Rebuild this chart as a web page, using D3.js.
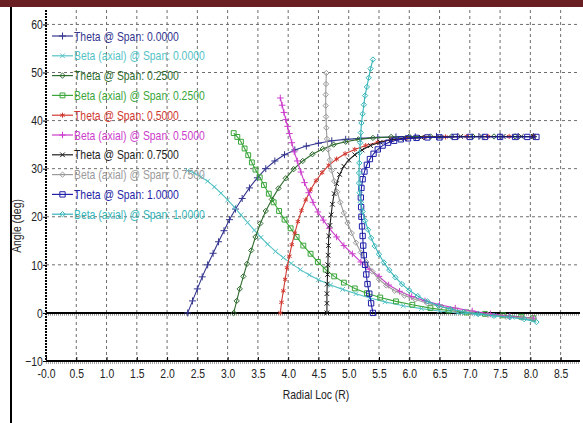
<!DOCTYPE html>
<html lang="en">
<head>
  <meta charset="UTF-8">
  <title>Angle vs Radial Loc</title>
  <script src="https://d3js.org/d3.v7.min.js"></script>
  <style>
    body { margin: 0; background: #fff; }
    text { font-family: "Liberation Sans", Arial, sans-serif; }
    .grid line { stroke: #6e6e6e; stroke-width: 1; stroke-dasharray: 3,3; }
  </style>
</head>
<body>
  <div id="chart"></div>
  <script>
    // tick values / labels
    const xTicks = [0, 0.5, 1, 1.5, 2, 2.5, 3, 3.5, 4, 4.5, 5, 5.5, 6, 6.5, 7, 7.5, 8, 8.5];
    const xTickLabels = ["-0.0", "0.5", "1.0", "1.5", "2.0", "2.5", "3.0", "3.5", "4.0", "4.5", "5.0", "5.5", "6.0", "6.5", "7.0", "7.5", "8.0", "8.5"];
    const yTicks = [-10, 0, 10, 20, 30, 40, 50, 60];

    // series values [radial loc, angle]
    const thetaSpan0000 = [[2.34,0],[2.42,2.5],[2.50,5.0],[2.58,7.5],[2.67,10.0],[2.76,12.4],[2.85,14.8],[2.94,17.1],[3.03,19.4],[3.13,21.6],[3.24,23.8],[3.36,26.0],[3.49,28.1],[3.63,30.0],[3.78,31.6],[3.94,32.9],[4.11,33.9],[4.30,34.7],[4.50,35.3],[4.72,35.8],[4.95,36.1],[5.20,36.3],[5.48,36.5],[5.78,36.6],[6.10,36.6],[6.45,36.7],[6.80,36.7],[7.15,36.7],[7.50,36.7],[7.80,36.7],[8.05,36.7]];
    const betaSpan0000 = [[2.34,29.6],[2.45,29.1],[2.56,28.3],[2.67,27.4],[2.78,26.2],[2.89,24.9],[3.00,23.5],[3.11,22.0],[3.22,20.4],[3.33,18.8],[3.44,17.2],[3.55,15.7],[3.66,14.3],[3.79,12.8],[3.92,11.5],[4.05,10.3],[4.20,9.0],[4.35,7.9],[4.50,6.9],[4.70,5.8],[4.90,4.9],[5.12,4.0],[5.35,3.1],[5.60,2.3],[5.90,1.5],[6.20,0.9],[6.50,0.4],[6.80,0.0],[7.10,-0.3],[7.40,-0.6],[7.70,-0.9],[8.05,-1.5]];
    const thetaSpan0250 = [[3.10,0],[3.15,2.5],[3.20,5.0],[3.26,7.6],[3.32,10.2],[3.39,13.0],[3.46,15.8],[3.54,18.6],[3.63,21.2],[3.73,23.6],[3.84,25.9],[3.96,28.0],[4.09,29.9],[4.24,31.6],[4.40,33.0],[4.57,34.1],[4.75,35.0],[4.95,35.6],[5.16,36.1],[5.40,36.4],[5.70,36.6],[6.00,36.7],[6.35,36.7],[6.70,36.7],[7.05,36.7],[7.40,36.7],[7.75,36.7],[8.05,36.7]];
    const betaSpan0250 = [[3.10,37.4],[3.16,36.6],[3.22,35.6],[3.28,34.2],[3.34,32.8],[3.40,31.3],[3.46,29.8],[3.53,28.2],[3.60,26.6],[3.68,24.8],[3.76,23.0],[3.85,21.2],[3.94,19.4],[4.04,17.6],[4.14,15.8],[4.25,14.0],[4.37,12.3],[4.49,10.6],[4.62,9.0],[4.76,7.6],[4.92,6.3],[5.10,5.1],[5.30,4.1],[5.52,3.2],[5.78,2.4],[6.05,1.7],[6.35,1.0],[6.65,0.5],[6.95,0.1],[7.25,-0.2],[7.55,-0.5],[7.85,-0.8],[8.05,-1.1]];
    const thetaSpan0500 = [[3.87,0],[3.89,2.2],[3.92,4.6],[3.95,7.0],[3.98,9.4],[4.02,11.8],[4.06,14.2],[4.11,16.6],[4.16,19.0],[4.22,21.3],[4.29,23.5],[4.37,25.6],[4.46,27.5],[4.56,29.2],[4.67,30.7],[4.80,32.0],[4.94,33.1],[5.10,34.0],[5.28,34.8],[5.48,35.5],[5.70,36.0],[5.95,36.3],[6.25,36.5],[6.60,36.6],[6.95,36.7],[7.30,36.7],[7.65,36.7],[8.05,36.7]];
    const betaSpan0500 = [[3.87,44.7],[3.90,43.2],[3.93,41.7],[3.96,40.2],[3.99,38.8],[4.02,37.3],[4.06,35.4],[4.10,33.5],[4.15,31.6],[4.21,29.3],[4.27,27.1],[4.34,25.0],[4.41,23.0],[4.49,21.0],[4.58,19.3],[4.68,17.6],[4.80,15.8],[4.92,14.0],[5.06,12.3],[5.20,10.6],[5.34,9.1],[5.50,7.6],[5.66,5.8],[5.84,4.5],[6.04,3.4],[6.26,2.5],[6.50,1.7],[6.76,1.0],[7.04,0.4],[7.34,-0.2],[7.66,-0.7],[8.05,-1.1]];
    const thetaSpan0750 = [[4.64,0],[4.64,2.0],[4.64,4.0],[4.645,6.0],[4.65,8.0],[4.655,10.0],[4.66,12.0],[4.665,14.0],[4.67,16.0],[4.69,18.2],[4.71,20.4],[4.73,22.6],[4.76,24.8],[4.80,26.9],[4.85,28.8],[4.92,30.5],[5.00,31.8],[5.10,32.9],[5.22,33.9],[5.36,34.8],[5.52,35.5],[5.70,36.0],[5.92,36.3],[6.20,36.5],[6.50,36.6],[6.85,36.7],[7.20,36.7],[7.55,36.7],[7.85,36.7],[8.05,36.7]];
    const betaSpan0750 = [[4.63,49.9],[4.625,47.6],[4.62,45.4],[4.62,43.1],[4.625,40.8],[4.63,38.5],[4.64,36.2],[4.66,34.0],[4.69,31.8],[4.72,29.6],[4.76,27.4],[4.81,25.2],[4.86,23.0],[4.92,20.8],[4.98,18.7],[5.05,16.6],[5.12,14.6],[5.20,12.6],[5.29,10.6],[5.39,8.6],[5.50,7.0],[5.62,5.7],[5.76,4.6],[5.92,3.6],[6.10,2.8],[6.30,2.0],[6.52,1.3],[6.76,0.6],[7.02,0.1],[7.30,-0.4],[7.60,-0.8],[7.85,-1.0],[8.05,-1.1]];
    const thetaSpan1000 = [[5.40,0],[5.37,2.0],[5.34,4.0],[5.31,6.0],[5.29,8.0],[5.27,10.0],[5.25,12.0],[5.24,14.0],[5.23,16.0],[5.22,18.0],[5.21,20.0],[5.205,22.0],[5.20,24.0],[5.21,26.0],[5.23,27.8],[5.26,29.4],[5.30,30.8],[5.35,32.0],[5.41,33.1],[5.48,34.0],[5.56,34.8],[5.65,35.4],[5.75,35.8],[5.86,36.1],[5.98,36.3],[6.12,36.4],[6.30,36.5],[6.50,36.5],[6.75,36.6],[7.00,36.6],[7.25,36.6],[7.50,36.6],[7.75,36.6],[7.95,36.6],[8.10,36.6]];
    const betaSpan1000 = [[5.40,52.7],[5.36,50.8],[5.33,48.9],[5.30,47.0],[5.27,45.2],[5.25,43.3],[5.23,41.4],[5.21,39.5],[5.20,37.5],[5.19,35.4],[5.18,33.3],[5.175,31.2],[5.17,29.1],[5.17,27.0],[5.18,25.0],[5.20,23.0],[5.23,21.1],[5.27,19.2],[5.32,17.3],[5.37,15.6],[5.43,13.9],[5.50,12.2],[5.58,10.5],[5.67,8.9],[5.77,7.4],[5.88,6.0],[6.00,4.7],[6.14,3.5],[6.30,2.4],[6.48,1.5],[6.68,0.8],[6.90,0.2],[7.14,-0.2],[7.40,-0.6],[7.66,-0.9],[7.90,-1.3],[8.10,-1.9]];

    const seriesNames = ["Theta @ Span: 0.0000", "Beta (axial) @ Span: 0.0000", "Theta @ Span: 0.2500", "Beta (axial) @ Span: 0.2500",
      "Theta @ Span: 0.5000", "Beta (axial) @ Span: 0.5000", "Theta @ Span: 0.7500", "Beta (axial) @ Span: 0.7500",
      "Theta @ Span: 1.0000", "Beta (axial) @ Span: 1.0000"];
    const seriesData = [thetaSpan0000, betaSpan0000, thetaSpan0250, betaSpan0250, thetaSpan0500, betaSpan0500, thetaSpan0750, betaSpan0750, thetaSpan1000, betaSpan1000];
    const seriesColors = ["#34358f", "#55c3c6", "#2e6b2e", "#3aa63a", "#d13a32", "#cc3ccc", "#1e1e1e", "#9a9a9a", "#1f1fa8", "#35b5b8"];
    const seriesSymbols = [d3.symbolPlus, d3.symbolTimes, d3.symbolDiamond2, d3.symbolSquare2, d3.symbolAsterisk,
      d3.symbolPlus, d3.symbolTimes, d3.symbolDiamond2, d3.symbolSquare2, d3.symbolDiamond2];
    const seriesSymbolSizes = [18, 16, 18, 30, 18, 16, 16, 18, 36, 18];

    const W = 583, H = 423;
    const narrow = 0.8; // horizontal squeeze to mimic a condensed font
    const svg = d3.select("#chart").append("svg").attr("width", W).attr("height", H);

    // frame decorations
    svg.append("rect").attr("x", 0).attr("y", 0).attr("width", W).attr("height", 7).attr("fill", "#6a1f22");
    svg.append("line").attr("x1", 11).attr("x2", 11).attr("y1", 7).attr("y2", H)
      .attr("stroke", "#000").attr("stroke-width", 2);

    const x = d3.scaleLinear().domain([0, 8.82]).range([46, 580]);
    const y = d3.scaleLinear().domain([-10, 63]).range([361, 10]);

    // grid
    const grid = svg.append("g").attr("class", "grid");
    grid.selectAll(".vx").data(xTicks.slice(1)).enter().append("line")
      .attr("x1", d => x(d)).attr("x2", d => x(d)).attr("y1", y(63)).attr("y2", y(-10));
    grid.selectAll(".hy").data(yTicks.filter(d => d > 0)).enter().append("line")
      .attr("x1", x(0)).attr("x2", 580).attr("y1", d => y(d)).attr("y2", d => y(d));

    // zero line
    svg.append("line").attr("x1", x(0)).attr("x2", 580).attr("y1", y(0)).attr("y2", y(0))
      .attr("stroke", "#000").attr("stroke-width", 2);
    svg.append("line").attr("x1", x(0)).attr("x2", 580).attr("y1", y(0) + 2).attr("y2", y(0) + 2)
      .attr("stroke", "#555").attr("stroke-width", 1).attr("stroke-dasharray", "1,1");

    // axes
    const xAxis = svg.append("g").attr("transform", `translate(0,${y(-10)})`)
      .call(d3.axisBottom(x).tickValues(xTicks).tickFormat((d, i) => xTickLabels[i]).tickSize(-4).tickPadding(8));
    xAxis.select(".domain").remove();
    xAxis.append("line").attr("x1", x(0)).attr("x2", 580).attr("stroke", "#000").attr("stroke-width", 2);
    xAxis.append("line").attr("x1", x(0)).attr("x2", 580).attr("y1", 2).attr("y2", 2)
      .attr("stroke", "#555").attr("stroke-dasharray", "1,1");
    xAxis.selectAll("text").attr("font-size", 13).attr("fill", "#222").attr("transform", `scale(${narrow},1)`);

    const yAxis = svg.append("g").attr("transform", `translate(${x(0)},0)`)
      .call(d3.axisLeft(y).tickValues(yTicks).tickSize(3).tickPadding(1));
    yAxis.select(".domain").remove();
    yAxis.append("line").attr("y1", y(63)).attr("y2", y(-10)).attr("stroke", "#000").attr("stroke-width", 2)
      .attr("stroke-dasharray", "2,1");
    yAxis.selectAll("text").attr("font-size", 13).attr("fill", "#222").attr("transform", `scale(${narrow},1)`);

    svg.append("text").attr("transform", `translate(316,399) scale(${narrow},1)`).attr("text-anchor", "middle")
      .attr("font-size", 13).attr("fill", "#222").text("Radial Loc (R)");
    svg.append("text").attr("transform", `translate(21,226) rotate(-90) scale(${narrow},1)`).attr("text-anchor", "middle")
      .attr("font-size", 13).attr("fill", "#222").text("Angle (deg)");

    // curves
    const line = d3.line().x(d => x(d[0])).y(d => y(d[1]));
    seriesData.forEach((data, i) => {
      const g = svg.append("g");
      g.append("path").datum(data).attr("d", line)
        .attr("fill", "none").attr("stroke", seriesColors[i]).attr("stroke-width", 1.1);
      g.selectAll("path.m").data(data).enter().append("path").attr("class", "m")
        .attr("transform", d => `translate(${x(d[0])},${y(d[1])})`)
        .attr("d", d3.symbol(seriesSymbols[i], seriesSymbolSizes[i]))
        .attr("fill", "none").attr("stroke", seriesColors[i]).attr("stroke-width", 1);
    });

    // legend
    const legend = svg.append("g").attr("transform", "translate(52,36)");
    seriesNames.forEach((name, i) => {
      const row = legend.append("g").attr("transform", `translate(0,${i * 19.8})`);
      row.append("line").attr("x1", 0).attr("x2", 21).attr("stroke", seriesColors[i]).attr("stroke-width", 1.2);
      row.append("path").attr("transform", "translate(10.5,0)")
        .attr("d", d3.symbol(seriesSymbols[i], seriesSymbolSizes[i]))
        .attr("fill", "none").attr("stroke", seriesColors[i]);
      row.append("text").attr("transform", `translate(22,4.5) scale(${narrow},1)`).attr("font-size", 13)
        .attr("fill", seriesColors[i]).text(name);
    });
  </script>
</body>
</html>
